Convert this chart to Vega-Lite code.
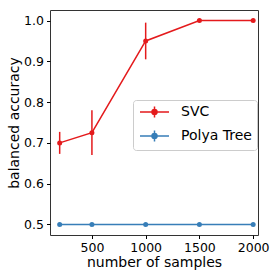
{
  "$schema": "https://vega.github.io/schema/vega-lite/v6.json",
  "width": 208,
  "height": 225,
  "autosize": "none",
  "padding": {"left": 50, "top": 10, "right": 19, "bottom": 42},
  "config": {
    "font": "DejaVu Sans",
    "view": {"stroke": "#333333", "strokeWidth": 1},
    "axis": {
      "grid": false,
      "domain": false,
      "tickColor": "#000000",
      "tickSize": 3.5,
      "labelFontSize": 12.5,
      "labelColor": "#000000",
      "labelPadding": 3,
      "titleFontSize": 14,
      "titleFontWeight": "normal",
      "titleColor": "#000000"
    }
  },
  "data": {
    "values": [
      {"n": 200, "model": "SVC", "acc": 0.70, "lo": 0.673, "hi": 0.727},
      {"n": 500, "model": "SVC", "acc": 0.725, "lo": 0.67, "hi": 0.78},
      {"n": 1000, "model": "SVC", "acc": 0.95, "lo": 0.905, "hi": 0.995},
      {"n": 1500, "model": "SVC", "acc": 1.0, "lo": 1.0, "hi": 1.0},
      {"n": 2000, "model": "SVC", "acc": 1.0, "lo": 1.0, "hi": 1.0},
      {"n": 200, "model": "Polya Tree", "acc": 0.5, "lo": 0.5, "hi": 0.5},
      {"n": 500, "model": "Polya Tree", "acc": 0.5, "lo": 0.5, "hi": 0.5},
      {"n": 1000, "model": "Polya Tree", "acc": 0.5, "lo": 0.5, "hi": 0.5},
      {"n": 1500, "model": "Polya Tree", "acc": 0.5, "lo": 0.5, "hi": 0.5},
      {"n": 2000, "model": "Polya Tree", "acc": 0.5, "lo": 0.5, "hi": 0.5}
    ]
  },
  "encoding": {
    "x": {
      "field": "n",
      "type": "quantitative",
      "scale": {"domain": [110, 2045], "nice": false, "zero": false},
      "axis": {"values": [500, 1000, 1500, 2000], "format": "d", "title": "number of samples", "titlePadding": 1}
    },
    "color": {
      "field": "model",
      "type": "nominal",
      "scale": {"domain": ["SVC", "Polya Tree"], "range": ["#e41a1c", "#377eb8"]},
      "legend": {
        "title": null,
        "orient": "none",
        "legendX": 83,
        "legendY": 90,
        "symbolType": "M-1,0H4.8M1.9,-1.1V1.1M1.4,0A0.5,0.5 0 1,0 2.4,0A0.5,0.5 0 1,0 1.4,0Z",
        "symbolSize": 100,
        "symbolStrokeWidth": 1.5,
        "labelFontSize": 14,
        "labelColor": "#000000",
        "labelOffset": 29,
        "padding": 5,
        "rowPadding": 6,
        "strokeColor": "#cccccc",
        "fillColor": "rgba(255,255,255,0.8)",
        "cornerRadius": 3,
        "encode": {
          "symbols": {"update": {"fill": {"scale": "color", "field": "value"}, "fillOpacity": {"value": 1}}}
        }
      }
    }
  },
  "layer": [
    {
      "mark": {"type": "rule", "strokeWidth": 1.5},
      "encoding": {
        "y": {"field": "lo", "type": "quantitative"},
        "y2": {"field": "hi"}
      }
    },
    {
      "mark": {"type": "line", "strokeWidth": 1.5},
      "encoding": {
        "y": {
          "field": "acc",
          "type": "quantitative",
          "scale": {"domain": [0.474, 1.026], "nice": false, "zero": false},
          "axis": {"values": [0.5, 0.6, 0.7, 0.8, 0.9, 1.0], "format": ".1f", "title": "balanced accuracy", "titlePadding": 2}
        }
      }
    },
    {
      "mark": {"type": "point", "filled": true, "size": 25, "opacity": 1},
      "encoding": {
        "y": {"field": "acc", "type": "quantitative"}
      }
    }
  ]
}
